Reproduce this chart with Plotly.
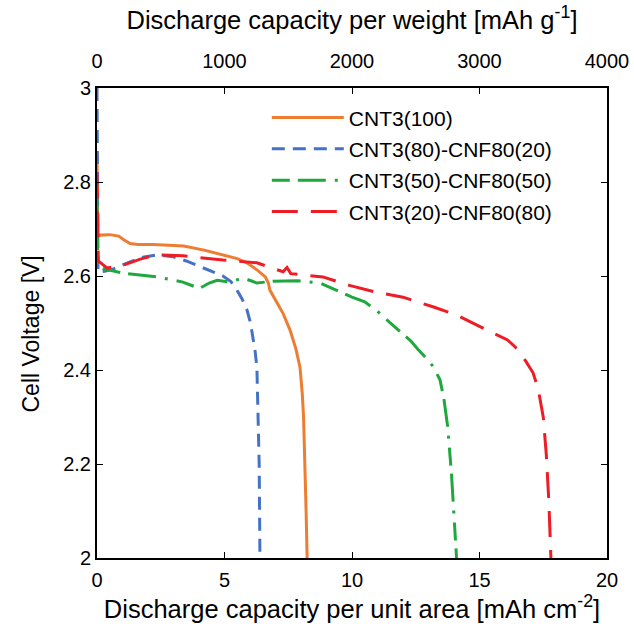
import plotly.graph_objects as go

# Discharge capacity per unit area [mAh cm^-2] vs cell voltage [V]
cnt100_x = [0.0, 0.03, 0.12, 0.5, 0.85, 1.05, 1.3, 1.6, 2.2, 3.0, 3.4, 4.2, 4.94, 5.5, 5.88, 6.3, 6.6, 6.72, 6.78, 7.0, 7.3, 7.57, 7.8, 7.96, 8.05, 8.1, 8.16, 8.2, 8.24]
cnt100_y = [2.86, 2.69, 2.687, 2.688, 2.685, 2.677, 2.669, 2.667, 2.667, 2.666, 2.664, 2.655, 2.645, 2.637, 2.628, 2.612, 2.598, 2.585, 2.57, 2.55, 2.52, 2.485, 2.445, 2.406, 2.35, 2.3, 2.2, 2.1, 2.0]

mix80_x = [0.0, 0.02, 0.04, 0.3, 0.6, 1.2, 1.8, 2.35, 2.98, 3.5, 4.04, 4.5, 4.94, 5.25, 5.49, 5.7, 5.88, 6.02, 6.12, 6.2, 6.27, 6.32, 6.36, 6.39]
mix80_y = [3.0, 2.62, 2.608, 2.61, 2.614, 2.628, 2.64, 2.645, 2.641, 2.632, 2.62, 2.61, 2.60, 2.588, 2.57, 2.55, 2.528, 2.5, 2.47, 2.44, 2.406, 2.3, 2.2, 2.0]

mix50_x = [0.0, 0.03, 0.12, 1.02, 2.35, 3.37, 3.8, 4.04, 4.4, 4.71, 5.22, 5.73, 6.27, 6.9, 7.84, 8.75, 9.2, 9.6, 10.0, 10.5, 11.0, 11.5, 11.9, 12.3, 12.6, 13.0, 13.2, 13.45, 13.6, 13.75, 13.9, 14.0, 14.1]
mix50_y = [2.77, 2.63, 2.617, 2.606, 2.598, 2.587, 2.578, 2.574, 2.585, 2.591, 2.587, 2.596, 2.585, 2.589, 2.59, 2.585, 2.574, 2.564, 2.555, 2.545, 2.525, 2.5, 2.48, 2.462, 2.443, 2.42, 2.406, 2.379, 2.34, 2.28, 2.18, 2.1, 2.0]

mix20_x = [0.0, 0.03, 0.05, 0.39, 1.02, 1.7, 2.35, 3.37, 4.94, 6.27, 7.3, 7.45, 7.6, 8.86, 9.9, 10.9, 12.0, 13.2, 14.1, 15.1, 16.1, 16.4, 16.8, 17.1, 17.3, 17.5, 17.62, 17.72, 17.8]
mix20_y = [2.82, 2.65, 2.632, 2.617, 2.623, 2.636, 2.645, 2.643, 2.634, 2.628, 2.609, 2.618, 2.605, 2.598, 2.58, 2.566, 2.555, 2.534, 2.517, 2.49, 2.464, 2.449, 2.42, 2.394, 2.36, 2.3, 2.22, 2.12, 2.0]

names = ["CNT3(100)", "CNT3(80)-CNF80(20)", "CNT3(50)-CNF80(50)", "CNT3(20)-CNF80(80)"]
colors = ["#ED7D31", "#4472C4", "#1FA83D", "#EE1C25"]
dashes = ["solid", "13px,8px", "18px,8px,28px,9px,3px,9px", "26px,13px"]

fig = go.Figure()
for i, (xs, ys, n, c, d) in enumerate(zip([cnt100_x, mix80_x, mix50_x, mix20_x],
                                          [cnt100_y, mix80_y, mix50_y, mix20_y],
                                          names, colors, dashes)):
    fig.add_trace(go.Scatter(x=xs, y=ys, name=n, mode="lines", legendgroup=f"g{i}",
                             line=dict(color=c, width=3, dash=d)))

# dummy trace for the top axis (mAh g^-1)
fig.add_trace(go.Scatter(x=[0, 4000], y=[None, None], xaxis="x2", showlegend=False,
                         hoverinfo="skip", mode="lines"))

font = "Liberation Sans, Arial, sans-serif"
TICK = 20
fig.update_layout(
    width=634, height=628,
    margin=dict(l=97, r=27, t=88, b=70),
    paper_bgcolor="white", plot_bgcolor="white",
    font=dict(family=font, color="black", size=TICK),
    showlegend=True,
    legend=dict(x=0.333, y=0.98, xanchor="left", yanchor="top",
                bgcolor="rgba(0,0,0,0)", font=dict(size=21), tracegroupgap=1,
                itemwidth=72),
    xaxis=dict(range=[0, 20], tickvals=[0, 5, 10, 15, 20], ticks="inside", ticklen=6,
               tickcolor="black", showline=True, linecolor="black", linewidth=2,
               showgrid=False, zeroline=False, automargin=False, ticklabelstandoff=3,
               title=dict(text="Discharge capacity per unit area [mAh cm<sup>-2</sup>]",
                          font=dict(size=25.5), standoff=0),
               tickfont=dict(size=TICK)),
    xaxis2=dict(range=[0, 4000], tickvals=[0, 1000, 2000, 3000, 4000], overlaying="x",
                side="top", ticks="inside", ticklen=6, tickcolor="black",
                showline=True, linecolor="black", linewidth=2, showgrid=False, zeroline=False,
                automargin=False, ticklabelstandoff=10,
                title=dict(text="Discharge capacity per weight [mAh g<sup>-1</sup>]",
                           font=dict(size=25.5), standoff=13),
                tickfont=dict(size=TICK)),
    yaxis=dict(range=[2, 3], tickvals=[2, 2.2, 2.4, 2.6, 2.8, 3],
               ticktext=["2", "2.2", "2.4", "2.6", "2.8", "3"],
               ticks="inside", ticklen=6, tickcolor="black",
               showline=True, linecolor="black", linewidth=2, mirror="ticks",
               showgrid=False, zeroline=False, automargin=False,
               tickfont=dict(size=TICK)),
    annotations=[dict(text="Cell Voltage [V]", textangle=-90, showarrow=False,
                      xref="paper", yref="paper", x=-0.13, y=0.477,
                      xanchor="center", yanchor="middle", font=dict(size=23))],
)

fig.write_html("out.html")
